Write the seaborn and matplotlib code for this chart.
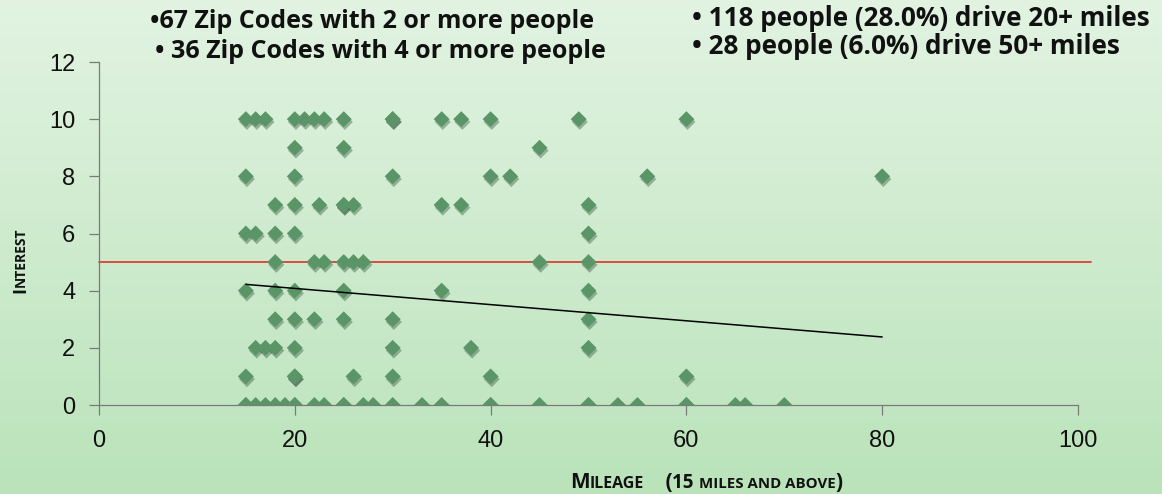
import numpy as np
import pandas as pd
import matplotlib
matplotlib.use("Agg")
import matplotlib.pyplot as plt
import matplotlib.patheffects as pe
from matplotlib.colors import LinearSegmentedColormap
import seaborn as sns

# Survey responses: miles driven vs. interest score (0-10)
mileage = [
    15, 16, 17, 20, 21, 22, 23, 25, 30, 30, 35, 37, 40, 49, 60,      # 10
    20, 25, 45,                                                      # 9
    15, 20, 30, 40, 42, 56, 80,                                      # 8
    18, 20, 22.5, 25, 25, 26, 35, 37, 50,                            # 7
    15, 16, 18, 20, 50,                                              # 6
    18, 22, 23, 25, 26, 27, 45, 50,                                  # 5
    15, 18, 20, 25, 35, 50,                                          # 4
    18, 20, 22, 25, 30, 50,                                          # 3
    16, 17, 18, 20, 30, 38, 50,                                      # 2
    15, 20, 20, 26, 30, 40, 60,                                      # 1
    15, 15, 16, 17, 18, 19, 20, 20, 22, 23, 25, 25, 27, 28, 30,      # 0
    33, 35, 40, 40, 45, 50, 50, 53, 55, 60, 60, 65, 66, 70,
]
interest = (
    [10] * 15 + [9] * 3 + [8] * 7 + [7] * 9 + [6] * 5 + [5] * 8
    + [4] * 6 + [3] * 6 + [2] * 7 + [1] * 7 + [0] * 29
)

# Linear trend endpoints and the interest threshold
trend_mileage = [15, 80]
trend_interest = [4.22, 2.38]
threshold = 5
threshold_end = 101.3

x_ticks = [0, 20, 40, 60, 80, 100]
y_ticks = [0, 2, 4, 6, 8, 10, 12]

left_notes = ["\u202267 Zip Codes with 2 or more people",
              "\u2022 36 Zip Codes with 4 or more people"]
right_notes = ["\u2022 118 people (28.0%) drive 20+ miles",
               "\u2022 28 people (6.0%) drive 50+ miles"]

df = pd.DataFrame({"Mileage": mileage, "Interest": interest})

sns.set_theme(style="white")
plt.rcParams["font.family"] = ["Liberation Sans", "DejaVu Sans"]

W, H = 1162, 494
fig = plt.figure(figsize=(W / 100, H / 100), dpi=100)

# Vertical green gradient background
bg = fig.add_axes([0, 0, 1, 1], zorder=-10)
grad = np.linspace(0, 1, 256).reshape(-1, 1)
cmap = LinearSegmentedColormap.from_list("bg", ["#e2f3e2", "#bae3ba"])
bg.imshow(grad, aspect="auto", cmap=cmap, extent=[0, 1, 0, 1], origin="upper")
bg.set_axis_off()

ax = fig.add_axes([99 / W, 1 - 405 / H, (1078 - 99) / W, (405 - 62) / H])
ax.patch.set_alpha(0)

sns.scatterplot(data=df, x="Mileage", y="Interest", ax=ax, marker="D",
                s=66, color="#5a9568", edgecolor="none", linewidth=0,
                zorder=3, legend=False)
ax.collections[0].set_path_effects([
    pe.SimplePatchShadow(offset=(0.8, -2.0), shadow_rgbFace="#1e3a24", alpha=0.35),
    pe.Normal(),
])

ax.plot(trend_mileage, trend_interest, color="black", lw=1.1, zorder=4)
ax.plot([0, threshold_end], [threshold, threshold], color="#e0302c", lw=1.2,
        zorder=2, clip_on=False)

ax.set_xlim(0, 100)
ax.set_ylim(0, 12)
ax.set_xticks(x_ticks)
ax.set_yticks(y_ticks)
ax.set_xlabel("")
ax.set_ylabel("")
for side in ["top", "right"]:
    ax.spines[side].set_visible(False)
for side in ["left", "bottom"]:
    ax.spines[side].set_color("#7a7a7a")
    ax.spines[side].set_linewidth(0.9)
ax.tick_params(axis="both", which="major", direction="out", length=7, width=0.9,
               color="#7a7a7a", labelsize=17, labelcolor="#111111", pad=8,
               bottom=True, left=True)
ax.tick_params(axis="x", pad=11)
ax.tick_params(axis="y", pad=10)

# Header notes
hfont = dict(family=["Open Sans", "DejaVu Sans"], fontweight="bold",
             color="#111111", va="center", ha="left")
fig.text(150 / W, 1 - 22 / H, left_notes[0], fontsize=18, **hfont)
fig.text(155 / W, 1 - 51 / H, left_notes[1], fontsize=18, **hfont)
fig.text(692 / W, 1 - 18 / H, right_notes[0], fontsize=18.8, **hfont)
fig.text(692 / W, 1 - 46 / H, right_notes[1], fontsize=18.8, **hfont)

# Small-caps style axis titles built from runs of text
fig.canvas.draw()
renderer = fig.canvas.get_renderer()
lab = dict(family=["Open Sans", "DejaVu Sans"], fontweight="bold",
           color="#111111", transform=None)


def runs(x, y, pieces, rotation=0):
    for txt, size in pieces:
        t = fig.text(x, y, txt, fontsize=size, rotation=rotation,
                     rotation_mode="anchor", ha="left", va="baseline", **lab)
        bb = t.get_window_extent(renderer)
        if rotation == 0:
            x += bb.width
        else:
            y += bb.height


runs(570, H - 488, [("M", 15), ("ILEAGE", 11.5), ("    (", 15), ("15 ", 13.5),
                    ("MILES AND ABOVE", 10.8), (")", 15)])
runs(25, H - 293, [("I", 13), ("NTEREST", 10)], rotation=90)

fig.savefig("out.png", dpi=100)
